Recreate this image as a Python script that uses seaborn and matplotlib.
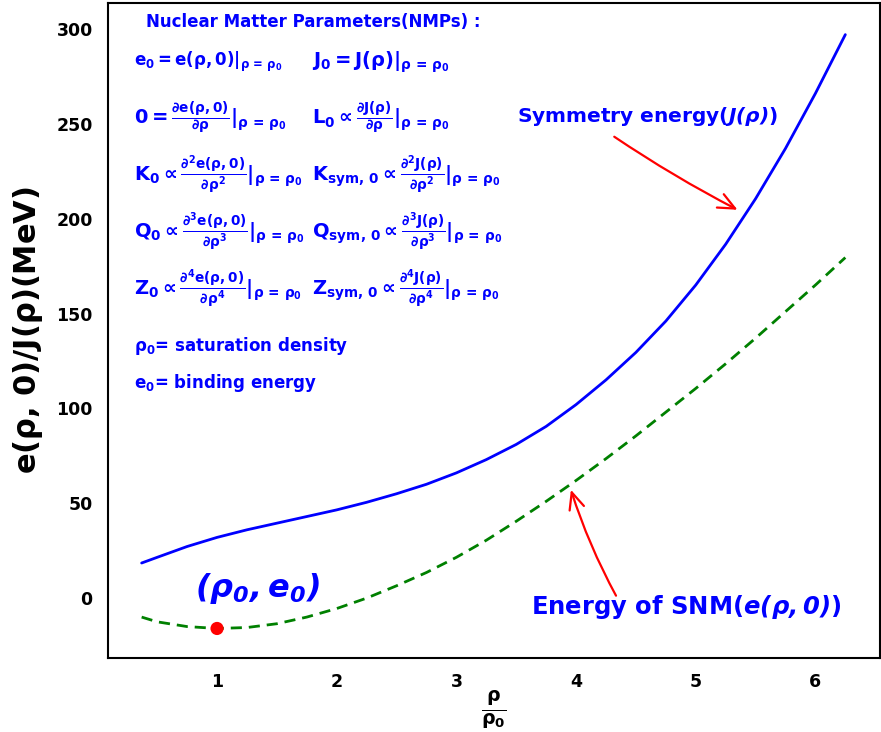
import numpy as np
import pandas as pd
import matplotlib
matplotlib.use("Agg")
import matplotlib.pyplot as plt
import seaborn as sns

# ---- data ----
rho_ratio = [0.37, 0.5, 0.75, 1.0, 1.25, 1.5, 1.75, 2.0, 2.25, 2.5, 2.75, 3.0,
             3.25, 3.5, 3.75, 4.0, 4.25, 4.5, 4.75, 5.0, 5.25, 5.5, 5.75, 6.0, 6.25]
sym_energy = [18.5, 21.5, 27.2, 32, 36, 39.5, 43, 46.5, 50.5, 55, 60, 66,
              73, 81, 90.5, 102, 115, 129.5, 146, 165, 186.5, 210.5, 237, 266, 297]
snm_energy = [-10, -12.5, -15, -16, -15.5, -13.5, -10, -5.5, 0, 6.5, 13.5, 21.5,
              30.5, 40.5, 51, 62, 73.5, 85.5, 98, 110.5, 123.5, 137, 151, 165, 179.5]
sat_point_x = [1.0]
sat_point_y = [-16]
x_ticks = [1, 2, 3, 4, 5, 6]
y_ticks = [0, 50, 100, 150, 200, 250, 300]

sns.set_theme(style="white")
plt.rcParams['font.family'] = ['DejaVu Sans']
plt.rcParams['mathtext.fontset'] = 'dejavusans'
plt.rcParams['mathtext.default'] = 'bf'
plt.rcParams['text.color'] = 'black'
plt.rcParams['axes.labelcolor'] = 'black'
plt.rcParams['xtick.color'] = 'black'
plt.rcParams['ytick.color'] = 'black'

fig = plt.figure(figsize=(8.81, 7.32), dpi=100)
ax = fig.add_axes([0.1226, 0.101, 0.8763, 0.895])

df = pd.DataFrame({"x": rho_ratio, "J": sym_energy, "e": snm_energy})
sns.lineplot(data=df, x="x", y="J", ax=ax, color="blue", linewidth=2)
sns.lineplot(data=df, x="x", y="e", ax=ax, color="green", linewidth=2, linestyle="--")
ax.lines[-1].set_dashes((4, 2.5))
sns.scatterplot(x=sat_point_x, y=sat_point_y, ax=ax, color="red", s=90, edgecolor="none", zorder=5)

ax.set_xlim(0.089, 6.54)
ax.set_ylim(-31.6, 313.7)
ax.set_xticks(x_ticks)
ax.set_yticks(y_ticks)
ax.set_xticklabels([str(t) for t in x_ticks], fontsize=12.5, fontweight="bold", color="black")
ax.set_yticklabels([str(t) for t in y_ticks], fontsize=12.5, fontweight="bold", color="black")
ax.tick_params(axis="both", direction="out", length=5, width=1.2, color="black", pad=6)
for s in ax.spines.values():
    s.set_color("black")
    s.set_linewidth(1.5)

ax.set_xlabel(r"$\frac{\rho}{\rho_0}$", fontsize=19.5, labelpad=-2, color="black")
ax.set_ylabel(r"e($\rho$, 0)/J($\rho$)(MeV)", fontsize=22, fontweight="bold", labelpad=8,
              color="black")

blue = "blue"
ax.text(0.406, 303.6, "Nuclear Matter Parameters(NMPs) :", color=blue, fontsize=12,
        fontweight="bold", ha="left", va="center")

c1, c2 = 0.306, 1.795
rows = [
    (282.5, r"$e_0 = e(\rho, 0)|_{\rho\, =\, \rho_0}$", r"$J_0 = J(\rho)|_{\rho\, =\, \rho_0}$", 12, 14),
    (253.0, r"$0 = \frac{\partial e(\rho, 0)}{\partial \rho}|_{\rho\, =\, \rho_0}$",
     r"$L_0 \propto \frac{\partial J(\rho)}{\partial \rho}|_{\rho\, =\, \rho_0}$", 14, 14),
    (223.0, r"$K_0 \propto \frac{\partial^2 e(\rho, 0)}{\partial \rho^2}|_{\rho\, =\, \rho_0}$",
     r"$K_{sym,\, 0} \propto \frac{\partial^2 J(\rho)}{\partial \rho^2}|_{\rho\, =\, \rho_0}$", 14, 14),
    (193.0, r"$Q_0 \propto \frac{\partial^3 e(\rho, 0)}{\partial \rho^3}|_{\rho\, =\, \rho_0}$",
     r"$Q_{sym,\, 0} \propto \frac{\partial^3 J(\rho)}{\partial \rho^3}|_{\rho\, =\, \rho_0}$", 14, 14),
    (163.4, r"$Z_0 \propto \frac{\partial^4 e(\rho, 0)}{\partial \rho^4}|_{\rho\, =\, \rho_0}$",
     r"$Z_{sym,\, 0} \propto \frac{\partial^4 J(\rho)}{\partial \rho^4}|_{\rho\, =\, \rho_0}$", 14, 14),
]
for y, t1, t2, f1, f2 in rows:
    ax.text(c1, y, t1, color=blue, fontsize=f1, ha="left", va="center")
    ax.text(c2, y, t2, color=blue, fontsize=f2, ha="left", va="center")

ax.text(c1, 132.8, r"$\rho_0$= saturation density", color=blue, fontsize=12,
        fontweight="bold", ha="left", va="center")
ax.text(c1, 113.3, r"$e_0$= binding energy", color=blue, fontsize=12,
        fontweight="bold", ha="left", va="center")

ax.text(3.51, 253.6, r"Symmetry energy($\mathbfit{J(\rho)}$)", color=blue, fontsize=14.5,
        fontweight="bold", ha="left", va="center")
ax.text(3.62, -4.7, r"Energy of SNM($\mathbfit{e(\rho, 0)}$)", color=blue, fontsize=17.5,
        fontweight="bold", ha="left", va="center")
ax.text(0.816, 5.3, r"$\mathbfit{(\rho_0, e_0)}$", color=blue, fontsize=23,
        ha="left", va="center")

ax.annotate("", xy=(5.37, 204), xytext=(4.30, 244),
            arrowprops=dict(arrowstyle="->,head_length=1.0,head_width=0.45", color="red",
                            lw=1.6, connectionstyle="arc3,rad=0.03"))
ax.annotate("", xy=(3.95, 58.5), xytext=(4.345, 0),
            arrowprops=dict(arrowstyle="->,head_length=1.0,head_width=0.45", color="red",
                            lw=1.6, connectionstyle="arc3,rad=-0.05"))

fig.savefig("out.png", dpi=100)
